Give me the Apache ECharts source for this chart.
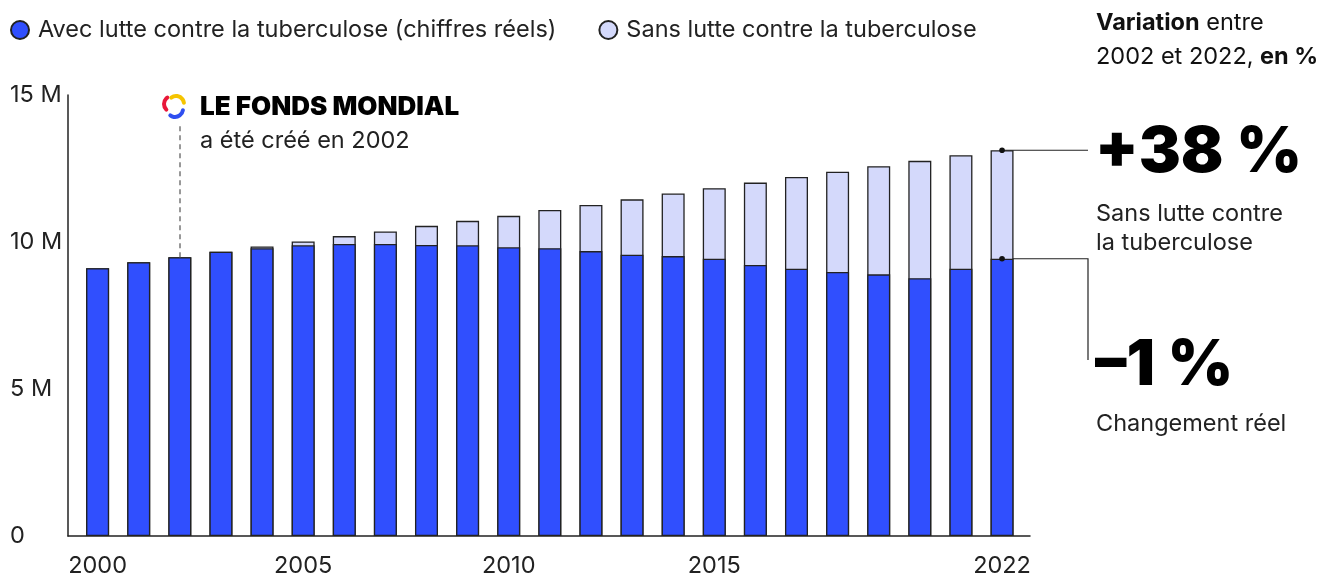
<!DOCTYPE html>
<html>
<head>
<meta charset="utf-8">
<script src="https://cdn.jsdelivr.net/npm/echarts@6/dist/echarts.min.js"></script>
<style>
  html, body { margin: 0; padding: 0; background: #fff; }
  #chart { width: 1319px; height: 578px; }
</style>
</head>
<body>
<div id="chart"></div>
<script>
// années
const years = [2000, 2001, 2002, 2003, 2004, 2005, 2006, 2007, 2008, 2009, 2010, 2011,
  2012, 2013, 2014, 2015, 2016, 2017, 2018, 2019, 2020, 2021, 2022]
// avec lutte contre la tuberculose (chiffres réels), en millions
const reel = [9.11, 9.31, 9.48, 9.67, 9.79, 9.89, 9.93, 9.93, 9.90, 9.89, 9.82, 9.79,
  9.69, 9.57, 9.52, 9.43, 9.22, 9.09, 8.98, 8.90, 8.77, 9.09, 9.43]
// sans lutte contre la tuberculose, en millions
const sansLutte = [9.11, 9.31, 9.48, 9.67, 9.85, 10.02, 10.20, 10.36, 10.55, 10.72, 10.89, 11.09,
  11.26, 11.45, 11.65, 11.83, 12.02, 12.21, 12.39, 12.58, 12.76, 12.95, 13.12]
const yearLabels = [2000, 2005, 2010, 2015, 2022]
const yTicks = [0, 5, 10, 15]

const nomReel = 'Avec lutte contre la tuberculose (chiffres réels)'
const nomSans = 'Sans lutte contre la tuberculose'
const FONT = 'Inter, "Noto Sans", sans-serif'
const FS = 23.5

const chart = echarts.init(document.getElementById('chart'))

const option = {
  animation: false,
  textStyle: { fontFamily: FONT },
  legend: {
    left: 5,
    top: 13,
    itemWidth: 18,
    itemHeight: 18,
    itemGap: 42,
    icon: 'circle',
    data: [nomReel, nomSans],
    textStyle: { fontSize: FS, color: '#222', fontFamily: FONT, padding: [0, 0, 0, 4] }
  },
  grid: { left: 68, right: 289, top: 95, bottom: 40 },
  xAxis: {
    type: 'value',
    min: 1999.28,
    max: 2022.68,
    splitLine: { show: false },
    axisLine: { show: true, lineStyle: { color: '#222', width: 1.5 } },
    axisTick: { show: false },
    axisLabel: {
      customValues: yearLabels,
      formatter: v => String(v),
      fontSize: FS,
      color: '#222',
      margin: 18,
      showMinLabel: true,
      showMaxLabel: true
    }
  },
  yAxis: {
    type: 'value',
    min: 0,
    max: 15,
    interval: 5,
    splitLine: { show: false },
    axisLine: { show: true, lineStyle: { color: '#222', width: 1.5 } },
    axisTick: { show: false },
    axisLabel: {
      customValues: yTicks,
      formatter: v => (v === 0 ? '0' : v + ' M'),
      align: 'left',
      margin: 58,
      fontSize: FS,
      color: '#222',
      padding: [6, 0, 0, 0]
    }
  },
  series: [
    {
      name: nomSans,
      type: 'bar',
      barWidth: 23,
      barGap: '-100%',
      itemStyle: { color: '#d4d9fb', borderColor: '#222', borderWidth: 1.3 },
      data: years.map((y, i) => [y, sansLutte[i]])
    },
    {
      name: nomReel,
      type: 'bar',
      barWidth: 23,
      barGap: '-100%',
      itemStyle: { color: '#304ffe', borderColor: '#222', borderWidth: 1.3 },
      data: years.map((y, i) => [y, reel[i]]),
      markLine: {
        silent: true,
        symbol: 'none',
        label: { show: false },
        lineStyle: { color: '#777', type: [5, 4], width: 1.5 },
        data: [[{ coord: [2002, reel[2]] }, { coord: [2002, 13.98] }]]
      }
    }
  ]
}
chart.setOption(option)

// annotations à droite reliées aux barres de 2022
const last = years.length - 1
const pTop = chart.convertToPixel({ gridIndex: 0 }, [years[last], sansLutte[last]])
const pBot = chart.convertToPixel({ gridIndex: 0 }, [years[last], reel[last]])
const lineEnd = 1088
const lineStyle = { stroke: '#222', lineWidth: 1.2, fill: null }
const arcStyle = color => ({ stroke: color, lineWidth: 4, fill: null, lineCap: 'round' })

chart.setOption({
  graphic: [
    { type: 'polyline', shape: { points: [[pTop[0], pTop[1]], [lineEnd, pTop[1]]] }, style: lineStyle },
    { type: 'polyline', shape: { points: [[pBot[0], pBot[1]], [lineEnd, pBot[1]], [lineEnd, 360]] }, style: lineStyle },
    { type: 'circle', z: 10, shape: { cx: pTop[0], cy: pTop[1], r: 2.8 }, style: { fill: '#111' } },
    { type: 'circle', z: 10, shape: { cx: pBot[0], cy: pBot[1], r: 2.8 }, style: { fill: '#111' } },
    {
      type: 'text', x: 1096, y: 6,
      style: {
        text: '{b|Variation} entre\n2002 et 2022, {b|en %}',
        font: FS + 'px ' + FONT,
        fill: '#111',
        lineHeight: 34,
        rich: { b: { fontWeight: 'bold', fontSize: FS, fontFamily: FONT, fill: '#111', lineHeight: 34 } }
      }
    },
    {
      type: 'text', x: 1095, y: 153,
      style: { text: '+38 %', font: '900 63px ' + FONT, fill: '#000', textVerticalAlign: 'middle' }
    },
    {
      type: 'text', x: 1096, y: 199,
      style: { text: 'Sans lutte contre\nla tuberculose', font: FS + 'px ' + FONT, fill: '#222', lineHeight: 29 }
    },
    {
      type: 'text', x: 1095, y: 366,
      style: { text: '–1 %', font: '900 63px ' + FONT, fill: '#000', textVerticalAlign: 'middle' }
    },
    {
      type: 'text', x: 1096, y: 424,
      style: { text: 'Changement réel', font: FS + 'px ' + FONT, fill: '#222', textVerticalAlign: 'middle' }
    },
    // logo du Fonds mondial
    { type: 'arc', shape: { cx: 172, cy: 104, r: 8, startAngle: Math.PI * 0.75, endAngle: Math.PI * 1.3 }, style: arcStyle('#e8173a') },
    { type: 'arc', shape: { cx: 176, cy: 104, r: 8, startAngle: Math.PI * 1.3, endAngle: Math.PI * 1.95 }, style: arcStyle('#f5c400') },
    { type: 'arc', shape: { cx: 175, cy: 109, r: 8, startAngle: Math.PI * 0.05, endAngle: Math.PI * 0.7 }, style: arcStyle('#2f4ff0') },
    {
      type: 'text', x: 200, y: 107,
      style: { text: 'LE FONDS MONDIAL', font: '900 26px ' + FONT, fill: '#000', textVerticalAlign: 'middle' }
    },
    {
      type: 'text', x: 200, y: 141,
      style: { text: 'a été créé en 2002', font: FS + 'px ' + FONT, fill: '#222', textVerticalAlign: 'middle' }
    }
  ]
})
</script>
</body>
</html>
